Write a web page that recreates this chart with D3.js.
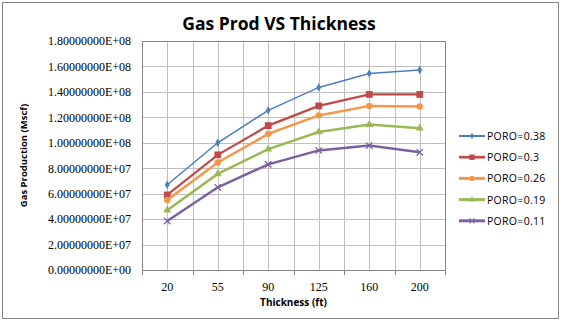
<!DOCTYPE html>
<html>
<head>
<meta charset="utf-8">
<script src="https://cdn.jsdelivr.net/npm/d3@7"></script>
<style>
  body { margin: 0; background: #fff; }
  text { font-family: "Open Sans", "Liberation Sans", sans-serif; }
</style>
</head>
<body>
<div id="chart"></div>
<script>
const width = 568, height = 332;

// Data
const thickness = ["20", "55", "90", "125", "160", "200"];
const poro38 = [6.7e7, 1.00e8, 1.255e8, 1.435e8, 1.545e8, 1.572e8];
const poro30 = [5.9e7, 9.05e7, 1.135e8, 1.29e8, 1.38e8, 1.38e8];
const poro26 = [5.5e7, 8.45e7, 1.07e8, 1.215e8, 1.29e8, 1.285e8];
const poro19 = [4.7e7, 7.55e7, 9.5e7, 1.085e8, 1.143e8, 1.115e8];
const poro11 = [3.85e7, 6.5e7, 8.3e7, 9.4e7, 9.78e7, 9.25e7];
const yTicks = [0, 2e7, 4e7, 6e7, 8e7, 1e8, 1.2e8, 1.4e8, 1.6e8, 1.8e8];

const series = [
  { name: "PORO=0.38", values: poro38, color: "#4A7EBB", width: 1.5, marker: "diamond" },
  { name: "PORO=0.3", values: poro30, color: "#BE4B48", width: 2.2, marker: "square" },
  { name: "PORO=0.26", values: poro26, color: "#F79646", width: 2.5, marker: "circle" },
  { name: "PORO=0.19", values: poro19, color: "#98B954", width: 2.5, marker: "triangle" },
  { name: "PORO=0.11", values: poro11, color: "#7D60A0", width: 2.5, marker: "x" }
];

const plot = { left: 142, right: 445, top: 41, bottom: 270 };

const svg = d3.select("#chart").append("svg")
    .attr("width", width)
    .attr("height", height);

svg.append("rect").attr("width", width).attr("height", height).attr("fill", "#fff");
// outer chart border
svg.append("rect")
    .attr("x", 2.5).attr("y", 2.5)
    .attr("width", 556).attr("height", 316)
    .attr("fill", "none").attr("stroke", "#868686");

const x = d3.scaleBand().domain(thickness).range([plot.left, plot.right]);
const y = d3.scaleLinear().domain([0, 1.8e8]).range([plot.bottom, plot.top]);

// gridlines: horizontal at major ticks
svg.append("g").selectAll("line").data(yTicks.slice(1)).join("line")
    .attr("x1", plot.left).attr("x2", plot.right)
    .attr("y1", d => Math.round(y(d)) + 0.5).attr("y2", d => Math.round(y(d)) + 0.5)
    .attr("stroke", "#BFBFBF");

// vertical gridlines at band edges and centres
const vx = [];
thickness.forEach(t => { vx.push(x(t)); vx.push(x(t) + x.bandwidth() / 2); });
vx.push(plot.right);
svg.append("g").selectAll("line").data(vx.slice(1)).join("line")
    .attr("x1", d => Math.round(d) + 0.5).attr("x2", d => Math.round(d) + 0.5)
    .attr("y1", plot.top).attr("y2", plot.bottom)
    .attr("stroke", "#BFBFBF");

// plot border
svg.append("rect")
    .attr("x", plot.left + 0.5).attr("y", plot.top + 0.5)
    .attr("width", plot.right - plot.left).attr("height", plot.bottom - plot.top)
    .attr("fill", "none").attr("stroke", "#868686");

// y axis labels
const yAxis = d3.axisLeft(y).tickValues(yTicks).tickSize(0).tickPadding(11)
    .tickFormat(d => {
      const e = d === 0 ? 0 : Math.floor(Math.log10(d));
      const m = d / Math.pow(10, e);
      return m.toFixed(8) + "E+" + String(e).padStart(2, "0");
    });
const gy = svg.append("g").attr("transform", `translate(${plot.left},0)`).call(yAxis);
gy.select(".domain").remove();
gy.selectAll("text").attr("fill", "#000")
    .style("font-family", "'Liberation Serif', serif").attr("font-size", 12);

// x axis
const xAxis = d3.axisBottom(x).tickSize(0).tickPadding(12);
const gx = svg.append("g").attr("transform", `translate(0,${plot.bottom})`).call(xAxis);
gx.select(".domain").attr("stroke", "#868686");
gx.selectAll("text").attr("font-size", 12).attr("fill", "#000")
    .style("font-family", "'Liberation Serif', serif");
gx.selectAll("line.edge").data(thickness.map(t => x(t)).concat([plot.right])).join("line")
    .attr("class", "edge")
    .attr("x1", d => Math.round(d) + 0.5).attr("x2", d => Math.round(d) + 0.5)
    .attr("y1", 0).attr("y2", 5)
    .attr("stroke", "#868686");

// lines and markers
const line = d3.line()
    .x((d, i) => x(thickness[i]) + x.bandwidth() / 2)
    .y(d => y(d));

const symbolOf = {
  diamond: d3.symbol(d3.symbolDiamond, 20),
  square: d3.symbol(d3.symbolSquare, 46),
  circle: d3.symbol(d3.symbolCircle, 32),
  triangle: d3.symbol(d3.symbolTriangle, 28),
  x: d3.symbol(d3.symbolX, 28)
};

function drawMarker(g, s) {
  const p = g.append("path").attr("d", symbolOf[s.marker]());
  if (s.marker === "x") p.attr("fill", "none").attr("stroke", s.color).attr("stroke-width", 1.3);
  else p.attr("fill", s.color);
}

series.forEach(s => {
  svg.append("path")
      .attr("d", line(s.values))
      .attr("fill", "none")
      .attr("stroke", s.color)
      .attr("stroke-width", s.width);
  s.values.forEach((v, i) => {
    const g = svg.append("g")
        .attr("transform", `translate(${x(thickness[i]) + x.bandwidth() / 2},${y(v)})`);
    drawMarker(g, s);
  });
});

// title
svg.append("text")
    .attr("x", 279).attr("y", 30)
    .attr("text-anchor", "middle")
    .attr("font-size", 17.5).attr("font-weight", "bold")
    .text("Gas Prod VS Thickness");

// axis titles
svg.append("text")
    .attr("transform", `translate(27,${(plot.top + plot.bottom) / 2}) rotate(-90)`)
    .attr("text-anchor", "middle")
    .attr("font-size", 9.5).attr("font-weight", "bold")
    .text("Gas Production  (Mscf)");

svg.append("text")
    .attr("x", (plot.left + plot.right) / 2).attr("y", 306)
    .attr("text-anchor", "middle")
    .attr("font-size", 10).attr("font-weight", "bold")
    .text("Thickness  (ft)");

// legend
const legend = svg.append("g").attr("transform", "translate(459,136)");
series.forEach((s, i) => {
  const row = legend.append("g").attr("transform", `translate(0,${i * 21.2})`);
  row.append("line").attr("x1", 0).attr("x2", 26).attr("y1", 0).attr("y2", 0)
      .attr("stroke", s.color).attr("stroke-width", s.width + 0.5);
  const m = row.append("g").attr("transform", "translate(13,0) scale(0.8)");
  drawMarker(m, s);
  row.append("text").attr("x", 28).attr("y", 4)
      .attr("font-size", 10.5).attr("fill", "#000")
      .style("letter-spacing", "0.3px")
      .text(s.name);
});
</script>
</body>
</html>
